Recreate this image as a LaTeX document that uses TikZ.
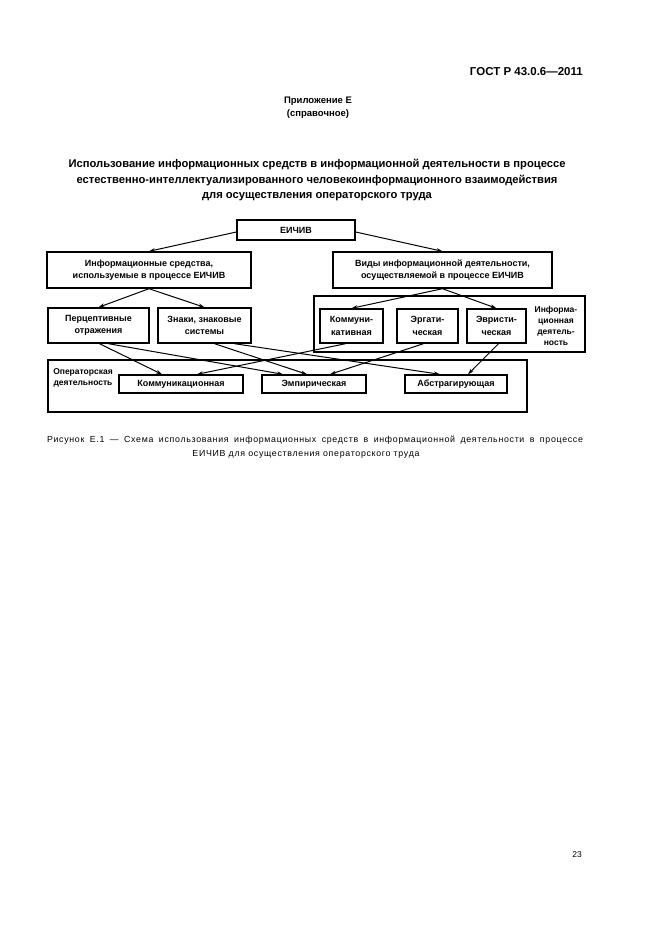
\documentclass[tikz,border=0pt]{standalone}
\usepackage{fontspec}
\setmainfont{Liberation Sans}
\usetikzlibrary{arrows.meta}

\tikzset{
  box/.style={draw,line width=1.4pt,inner sep=0pt,align=center,
    font=\fontsize{9}{12.5}\selectfont\bfseries},
  frame/.style={draw,line width=1.2pt},
  lbl/.style={inner sep=0pt,align=center,font=\fontsize{8.5}{11}\selectfont\bfseries},
  arr/.style={-{Stealth[length=6pt,width=3.8pt]},line width=1pt}
}

\begin{document}
\begin{tikzpicture}[x=1pt,y=-1pt]
    \fill[white] (0,0) rectangle (661,936);
    \useasboundingbox (0,0) rectangle (661,936);

    % page head
    \node[anchor=east,inner sep=0pt,font=\fontsize{11.5}{13}\selectfont\bfseries] (gost) at (583,72) {ГОСТ Р 43.0.6—2011};
    \node[lbl,font=\fontsize{9.5}{13}\selectfont\bfseries] (pril) at (318,108) {Приложение Е\\(справочное)};
    \node[lbl,font=\fontsize{11.2}{15.5}\selectfont\bfseries] (title) at (317,180) {Использование информационных средств в информационной деятельности в процессе\\
      естественно-интеллектуализированного человекоинформационного взаимодействия\\
      для осуществления операторского труда};

    % boxes
    \node[box,minimum width=118,minimum height=20] (eichiv) at (296,230) {ЕИЧИВ};
    \node[box,minimum width=204,minimum height=36] (sred) at (149,270) {Информационные средства,\\используемые в процессе ЕИЧИВ};
    \node[box,minimum width=219,minimum height=36] (vidy) at (442.5,270) {Виды информационной деятельности,\\осуществляемой в процессе ЕИЧИВ};

    \draw[frame] (314,296) rectangle (585,352);
    \node[lbl] (infolbl) at (556,326) {Информа-\\ционная\\деятель-\\ность};

    \node[box,minimum width=101,minimum height=35] (perc) at (98.5,325.5) {Перцептивные\\отражения};
    \node[box,minimum width=93,minimum height=35] (znaki) at (204.5,325.5) {Знаки, знаковые\\системы};
    \node[box,minimum width=63,minimum height=34] (komm) at (351.5,326) {Коммуни-\\кативная};
    \node[box,minimum width=61,minimum height=34] (erg) at (427.5,326) {Эргати-\\ческая};
    \node[box,minimum width=59,minimum height=34] (evr) at (496.5,326) {Эвристи-\\ческая};

    \draw[frame] (48,360) rectangle (527,412);
    \node[lbl] (operlbl) at (83,378) {Операторская\\деятельность};
    \node[box,minimum width=124,minimum height=18] (kommac) at (181,384) {Коммуникационная};
    \node[box,minimum width=104,minimum height=18] (emp) at (314,384) {Эмпирическая};
    \node[box,minimum width=102,minimum height=18] (abstr) at (456,384) {Абстрагирующая};

    % connectors
    \draw[arr] ([yshift=-2]eichiv.west) -- (sred.north);
    \draw[arr] ([yshift=-2]eichiv.east) -- (vidy.north);
    \draw[arr] (sred.south) -- (perc.north);
    \draw[arr] (sred.south) -- (znaki.north);
    \draw[arr] (vidy.south) -- (komm.north);
    \draw[arr] (vidy.south) -- (evr.north);

    \draw[arr] ([xshift=1]perc.south) -- ([xshift=-19]kommac.north);
    \draw[arr] ([xshift=10]perc.south) -- ([xshift=-31]emp.north);
    \draw[arr] ([xshift=10]znaki.south) -- ([xshift=-7]emp.north);
    \draw[arr] ([xshift=30]znaki.south) -- ([xshift=-16]abstr.north);
    \draw[arr] ([xshift=-6]komm.south) -- ([xshift=16]kommac.north);
    \draw[arr] ([xshift=-4]erg.south) -- ([xshift=16]emp.north);
    \draw[arr] ([xshift=2]evr.south) -- ([xshift=12]abstr.north);

    % caption
    \node[inner sep=0pt,font=\fontsize{8.8}{11}\selectfont\addfontfeatures{LetterSpace=8}] (capa) at (315,440) {\makebox[536pt][s]{Рисунок Е.1 — Схема использования информационных средств в информационной деятельности в процессе}};
    \node[inner sep=0pt,font=\fontsize{8.8}{11}\selectfont\addfontfeatures{LetterSpace=8}] (capb) at (306,454) {ЕИЧИВ для осуществления операторского труда};

    \node[inner sep=0pt,font=\fontsize{8.5}{9}\selectfont] (pagenum) at (577,855) {23};
\end{tikzpicture}
\end{document}
